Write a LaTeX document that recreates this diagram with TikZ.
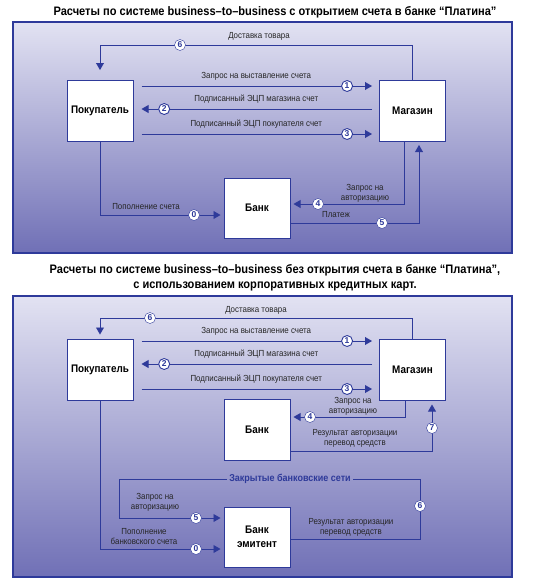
\documentclass[tikz,border=0pt]{standalone}
\usepackage{fontspec}
\setmainfont{Liberation Sans}
\newfontfamily\condfont{Liberation Sans}[FakeStretch=0.9, Ligatures=TeX]
\usepackage{tikz}
\usetikzlibrary{arrows}
\definecolor{lineblue}{HTML}{2E3A9A}
\definecolor{bgtop}{HTML}{E2E2F2}
\definecolor{bgbot}{HTML}{7070B6}
\tikzstyle{es} = [-triangle 60, draw=lineblue, line width=0.9pt, shorten >=3pt]
\tikzstyle{box} = [draw=lineblue, line width=1pt, fill=white, minimum width=66pt, minimum height=61pt, font=\condfont\fontsize{11}{14}\selectfont\bfseries, align=center]
\tikzstyle{lbl} = [font=\condfont\fontsize{8.8}{9.8}\selectfont, text=black!85, align=center, inner sep=0pt]
\tikzstyle{num} = [circle, draw=lineblue, fill=white, text=lineblue, font=\fontsize{8.5}{8.5}\selectfont\bfseries, inner sep=0pt, minimum size=11pt]
\tikzstyle{panel} = [top color=bgtop, bottom color=bgbot, draw=lineblue, line width=1.2pt]
\tikzstyle{title} = [font=\condfont\fontsize{12.3}{15}\selectfont\bfseries, align=center]
\tikzstyle{net} = [font=\condfont\fontsize{10}{11}\selectfont\bfseries, text=lineblue, inner sep=2pt]

\begin{document}
\begin{tikzpicture}[x=1pt,y=-1pt]
			\useasboundingbox (0,0) rectangle (545,581);
			% first scheme
			\node[title] (tt1) at (275,12) {Расчеты по системе business–to–business с открытием счета в банке “Платина”};
			\path[panel] (13,22) rectangle (512,253);
			\node[box] (p1) at (100,111) {Покупатель};
			\node[box] (m1) at (412.5,111) {Магазин};
			\node[box, minimum height=60pt] (b1) at (257,208) {Банк};
			\coordinate (c6) at (100,45);
			\draw[es, shorten >=10pt] (m1.north) |- (c6) -- (p1.north);
			\node[lbl] (l6) at (259,36) {Доставка товара};
			\node[num] (n6) at (180,45) {6};
			\draw[es, shorten <=8pt, shorten >=7pt] ([yshift=25pt]p1.east) -- ([yshift=25pt]m1.west)
				node[lbl, midway, above=5pt] (l1) {Запрос на выставление счета}
				node[num, pos=0.87] (n1) {1};
			\draw[es, shorten <=7pt, shorten >=8pt] ([yshift=2pt]m1.west) -- ([yshift=2pt]p1.east)
				node[lbl, midway, above=5pt] (l2) {Подписанный ЭЦП магазина счет}
				node[num, pos=0.875] (n2) {2};
			\draw[es, shorten <=8pt, shorten >=7pt] ([yshift=-23pt]p1.east) -- ([yshift=-23pt]m1.west)
				node[lbl, midway, above=5pt] (l3) {Подписанный ЭЦП покупателя счет}
				node[num, pos=0.87] (n3) {3};
			\draw[es] (p1.south) |- ([yshift=-7pt]b1.west);
			\node[lbl] (l0) at (146,207) {Пополнение счета};
			\node[num] (n0) at (194,215) {0};
			\draw[es] ([xshift=-8.5pt]m1.south) |- ([yshift=4pt]b1.east);
			\node[lbl] (l4) at (365,193) {Запрос на\\авторизацию};
			\node[num] (n4) at (318,204) {4};
			\draw[es] ([yshift=-15pt]b1.east) -| ([xshift=6.5pt]m1.south);
			\node[lbl] (l5) at (336,215) {Платеж};
			\node[num] (n5) at (382,223) {5};
			% second scheme
			\node[title] (tt2) at (275,278) {Расчеты по системе business–to–business без открытия счета в банке “Платина”,\\с использованием корпоративных кредитных карт.};
			\path[panel] (13,296) rectangle (512,577);
			\node[box] (p2) at (100,369.5) {Покупатель};
			\node[box] (m2) at (412.5,369.5) {Магазин};
			\node[box] (b2) at (257,429.5) {Банк};
			\node[box, minimum height=60pt] (e2) at (257,537) {Банк\\эмитент};
			\coordinate (d6) at (100,318);
			\draw[es, shorten >=4pt] (m2.north) |- (d6) -- (p2.north);
			\node[lbl] (k6) at (256,310) {Доставка товара};
			\node[num] (u6) at (150,318) {6};
			\draw[es, shorten <=8pt, shorten >=7pt] ([yshift=28.5pt]p2.east) -- ([yshift=28.5pt]m2.west)
				node[lbl, midway, above=5pt] (k1) {Запрос на выставление счета}
				node[num, pos=0.87] (u1) {1};
			\draw[es, shorten <=7pt, shorten >=8pt] ([yshift=5.5pt]m2.west) -- ([yshift=5.5pt]p2.east)
				node[lbl, midway, above=5pt] (k2) {Подписанный ЭЦП магазина счет}
				node[num, pos=0.875] (u2) {2};
			\draw[es, shorten <=8pt, shorten >=7pt] ([yshift=-19.5pt]p2.east) -- ([yshift=-19.5pt]m2.west)
				node[lbl, midway, above=5pt] (k3) {Подписанный ЭЦП покупателя счет}
				node[num, pos=0.87] (u3) {3};
			\draw[es] ([xshift=-7.5pt]m2.south) |- ([yshift=12.5pt]b2.east);
			\node[lbl] (k4) at (353,406.5) {Запрос на\\авторизацию};
			\node[num] (u4) at (310,417) {4};
			\draw[es, shorten >=4pt] ([yshift=-21.5pt]b2.east) -| ([xshift=19.5pt]m2.south);
			\node[lbl] (k7) at (355,438) {Результат авторизации\\перевод средств};
			\node[num] (u7) at (432,428) {7};
			\node[net] (cn) at (290,479) {Закрытые банковские сети};
			\coordinate (r1) at (420,479);
			\coordinate (r2) at (119,479);
			\draw[lineblue, line width=0.9pt] ([yshift=-2pt]e2.east) -| (r1) -- (cn.east);
			\draw[es] (cn.west) -- (r2) |- ([yshift=19pt]e2.west);
			\node[lbl] (k5) at (155,502.5) {Запрос на\\авторизацию};
			\node[num] (u5) at (196,518) {5};
			\node[lbl] (k8) at (351,527) {Результат авторизации\\перевод средств};
			\node[num] (u8) at (420,506) {6};
			\draw[es] (p2.south) |- ([yshift=-12pt]e2.west);
			\node[lbl] (k0) at (144,536.5) {Пополнение\\банковского счета};
			\node[num] (u0) at (196,549) {0};
		\end{tikzpicture}
\end{document}
